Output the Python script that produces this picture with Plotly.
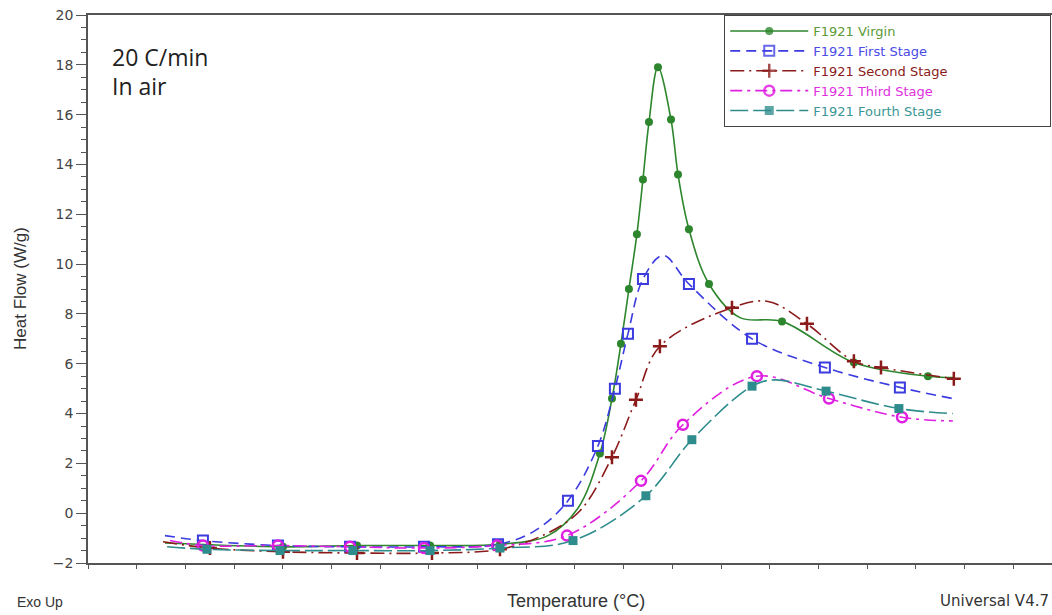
import plotly.graph_objects as go

# ---------------- data (Temperature in °C, Heat Flow in W/g) ----------------
virgin_t = [39.5, 100.1, 138.1, 175.6, 211.5, 236.1, 251.5, 262.8, 269.0, 273.6, 277.7, 281.8,
            284.9, 288.0, 292.6, 299.3, 302.9, 308.5, 318.8, 334.7, 356.3, 393.2, 431.2, 445.1]
virgin_hf = [-1.2, -1.35, -1.3, -1.3, -1.25, -0.9, 0.2, 2.4, 4.6, 6.8, 9.0, 11.2,
             13.4, 15.7, 17.9, 15.8, 13.6, 11.4, 9.2, 7.85, 7.7, 6.05, 5.5, 5.45]
virgin_marked = [0, 1, 1, 1, 1, 0, 0, 1, 1, 1, 1, 1, 1, 1, 1, 1, 1, 1, 1, 0, 1, 1, 1, 0]

first_t = [39.5, 59.0, 97.5, 134.5, 172.5, 210.5, 229.5, 246.4, 261.8, 270.5, 277.2, 284.9,
           295.2, 308.5, 340.9, 378.3, 416.8, 444.0]
first_hf = [-0.9, -1.1, -1.3, -1.35, -1.35, -1.25, -0.7, 0.5, 2.7, 5.0, 7.2, 9.4,
            10.35, 9.2, 7.0, 5.85, 5.05, 4.6]
first_marked = [0, 1, 1, 1, 1, 1, 0, 1, 1, 1, 1, 1, 0, 1, 1, 1, 1, 0]

second_t = [38.5, 62.6, 100.1, 138.1, 176.6, 211.5, 234.6, 252.6, 269.0, 281.3, 293.6, 330.6,
            349.1, 369.1, 393.2, 407.1, 444.5]
second_hf = [-1.15, -1.4, -1.55, -1.6, -1.6, -1.45, -0.85, 0.1, 2.25, 4.55, 6.7, 8.25,
             8.5, 7.6, 6.1, 5.85, 5.4]
second_marked = [0, 1, 1, 1, 1, 1, 0, 0, 1, 1, 1, 1, 0, 1, 1, 1, 1]

third_t = [42.1, 59.0, 97.5, 134.5, 172.5, 210.0, 245.9, 283.9, 305.4, 343.4, 380.4, 417.9, 444.0]
third_hf = [-1.1, -1.3, -1.3, -1.35, -1.4, -1.3, -0.9, 1.3, 3.55, 5.5, 4.6, 3.85, 3.7]
third_marked = [0, 1, 1, 1, 1, 1, 1, 1, 1, 1, 1, 1, 0]

fourth_t = [40.6, 61.1, 98.6, 136.0, 175.6, 211.5, 249.0, 286.4, 310.0, 340.9, 352.7, 378.9, 416.3, 444.0]
fourth_hf = [-1.35, -1.45, -1.5, -1.5, -1.5, -1.4, -1.1, 0.7, 2.95, 5.1, 5.35, 4.9, 4.2, 4.0]
fourth_marked = [0, 1, 1, 1, 1, 1, 1, 1, 1, 1, 0, 1, 1, 0]

series_names = ["F1921 Virgin", "F1921 First Stage", "F1921 Second Stage",
                "F1921 Third Stage", "F1921 Fourth Stage"]

x_range = [0, 494.9]
y_range = [-2, 20]

# ---------------- styles ----------------
styles = [
    dict(line="#2d862d", text="#5b9a35", dash="solid",
         marker=dict(symbol="circle", size=8)),
    dict(line="#3b3be0", text="#4a4ae6", dash="10px,6px",
         marker=dict(symbol="square-open", size=10, line=dict(width=2))),
    dict(line="#8b1a1a", text="#8b1a1a", dash="14px,5px,2px,5px",
         marker=dict(symbol="cross-thin", size=10, line=dict(width=2.5, color="#8b1a1a"))),
    dict(line="#e020e0", text="#e030e0", dash="12px,5px,3px,5px",
         marker=dict(symbol="circle-open", size=10, line=dict(width=2.5))),
    dict(line="#2f8c8c", text="#3a9696", dash="18px,5px",
         marker=dict(symbol="square", size=9)),
]

all_t = [virgin_t, first_t, second_t, third_t, fourth_t]
all_hf = [virgin_hf, first_hf, second_hf, third_hf, fourth_hf]
all_marked = [virgin_marked, first_marked, second_marked, third_marked, fourth_marked]

fig = go.Figure()
for i, name in enumerate(series_names):
    st = styles[i]
    mk = dict(st["marker"])
    mk["color"] = st["line"]
    mk["opacity"] = [1 if m else 0 for m in all_marked[i]]
    label = f'<span style="color:{st["text"]}">{name}</span>'
    if i == 4:
        label += "&nbsp;" * 25
    fig.add_trace(go.Scatter(
        x=all_t[i], y=all_hf[i], mode="lines+markers", name=label,
        line=dict(color=st["line"], width=1.6, dash=st["dash"], shape="spline", smoothing=1.0),
        marker=mk, cliponaxis=False,
    ))

axis_color = "#555555"
fig.update_layout(
    width=1052, height=615,
    margin=dict(l=88, r=0, t=15, b=52),
    paper_bgcolor="white", plot_bgcolor="white",
    font=dict(family="Liberation Sans, Arial, sans-serif", color="#333333"),
    showlegend=True,
    legend=dict(
        x=0.66, y=1, xanchor="left", yanchor="top",
        bgcolor="white", bordercolor="#444444", borderwidth=1,
        font=dict(family="DejaVu Sans, sans-serif", size=13),
        itemwidth=78, tracegroupgap=0,
    ),
    xaxis=dict(
        range=x_range, tick0=0, dtick=25, showticklabels=False,
        ticks="outside", ticklen=4, tickcolor=axis_color, tickwidth=1.2,
        showline=True, linecolor=axis_color, linewidth=1.5, mirror=True,
        showgrid=False, zeroline=False,
    ),
    yaxis=dict(
        range=y_range, tick0=0, dtick=2,
        ticks="outside", ticklen=10, tickcolor=axis_color, tickwidth=1.2,
        tickfont=dict(family="DejaVu Sans, sans-serif", size=14, color="#444444"),
        minor=dict(dtick=0.5, ticks="outside", ticklen=5, tickcolor=axis_color, tickwidth=1),
        showline=True, linecolor=axis_color, linewidth=1.5, mirror=False,
        showgrid=False, zeroline=False,
    ),
)

# pixel helpers for annotation placement (plot area: x 88..1052, y 15..563)
def px_x(p):
    return (p - 88) / 964.0

def px_y(p):
    return (563 - p) / 548.0

annos = [
    dict(text="20 C/min", x=px_x(110), y=px_y(57), xanchor="left", yanchor="middle",
         font=dict(family="Open Sans", size=23, color="#222222")),
    dict(text="In air", x=px_x(110), y=px_y(86), xanchor="left", yanchor="middle",
         font=dict(family="Open Sans", size=23, color="#222222")),
    dict(text="Heat Flow (W/g)", x=px_x(20), y=px_y(289), xanchor="center", yanchor="middle",
         textangle=-90, font=dict(family="Liberation Sans", size=17, color="#333333")),
    dict(text="Temperature (°C)", x=px_x(576), y=px_y(601), xanchor="center", yanchor="middle",
         font=dict(family="Liberation Sans", size=18, color="#333333")),
    dict(text="Exo Up", x=px_x(15), y=px_y(602), xanchor="left", yanchor="middle",
         font=dict(family="Liberation Sans", size=14, color="#333333")),
    dict(text="Universal V4.7", x=px_x(938), y=px_y(601), xanchor="left", yanchor="middle",
         font=dict(family="DejaVu Sans", size=15, color="#333333")),
]
for a in annos:
    fig.add_annotation(xref="paper", yref="paper", showarrow=False, **a)

fig.write_html("out.html")
